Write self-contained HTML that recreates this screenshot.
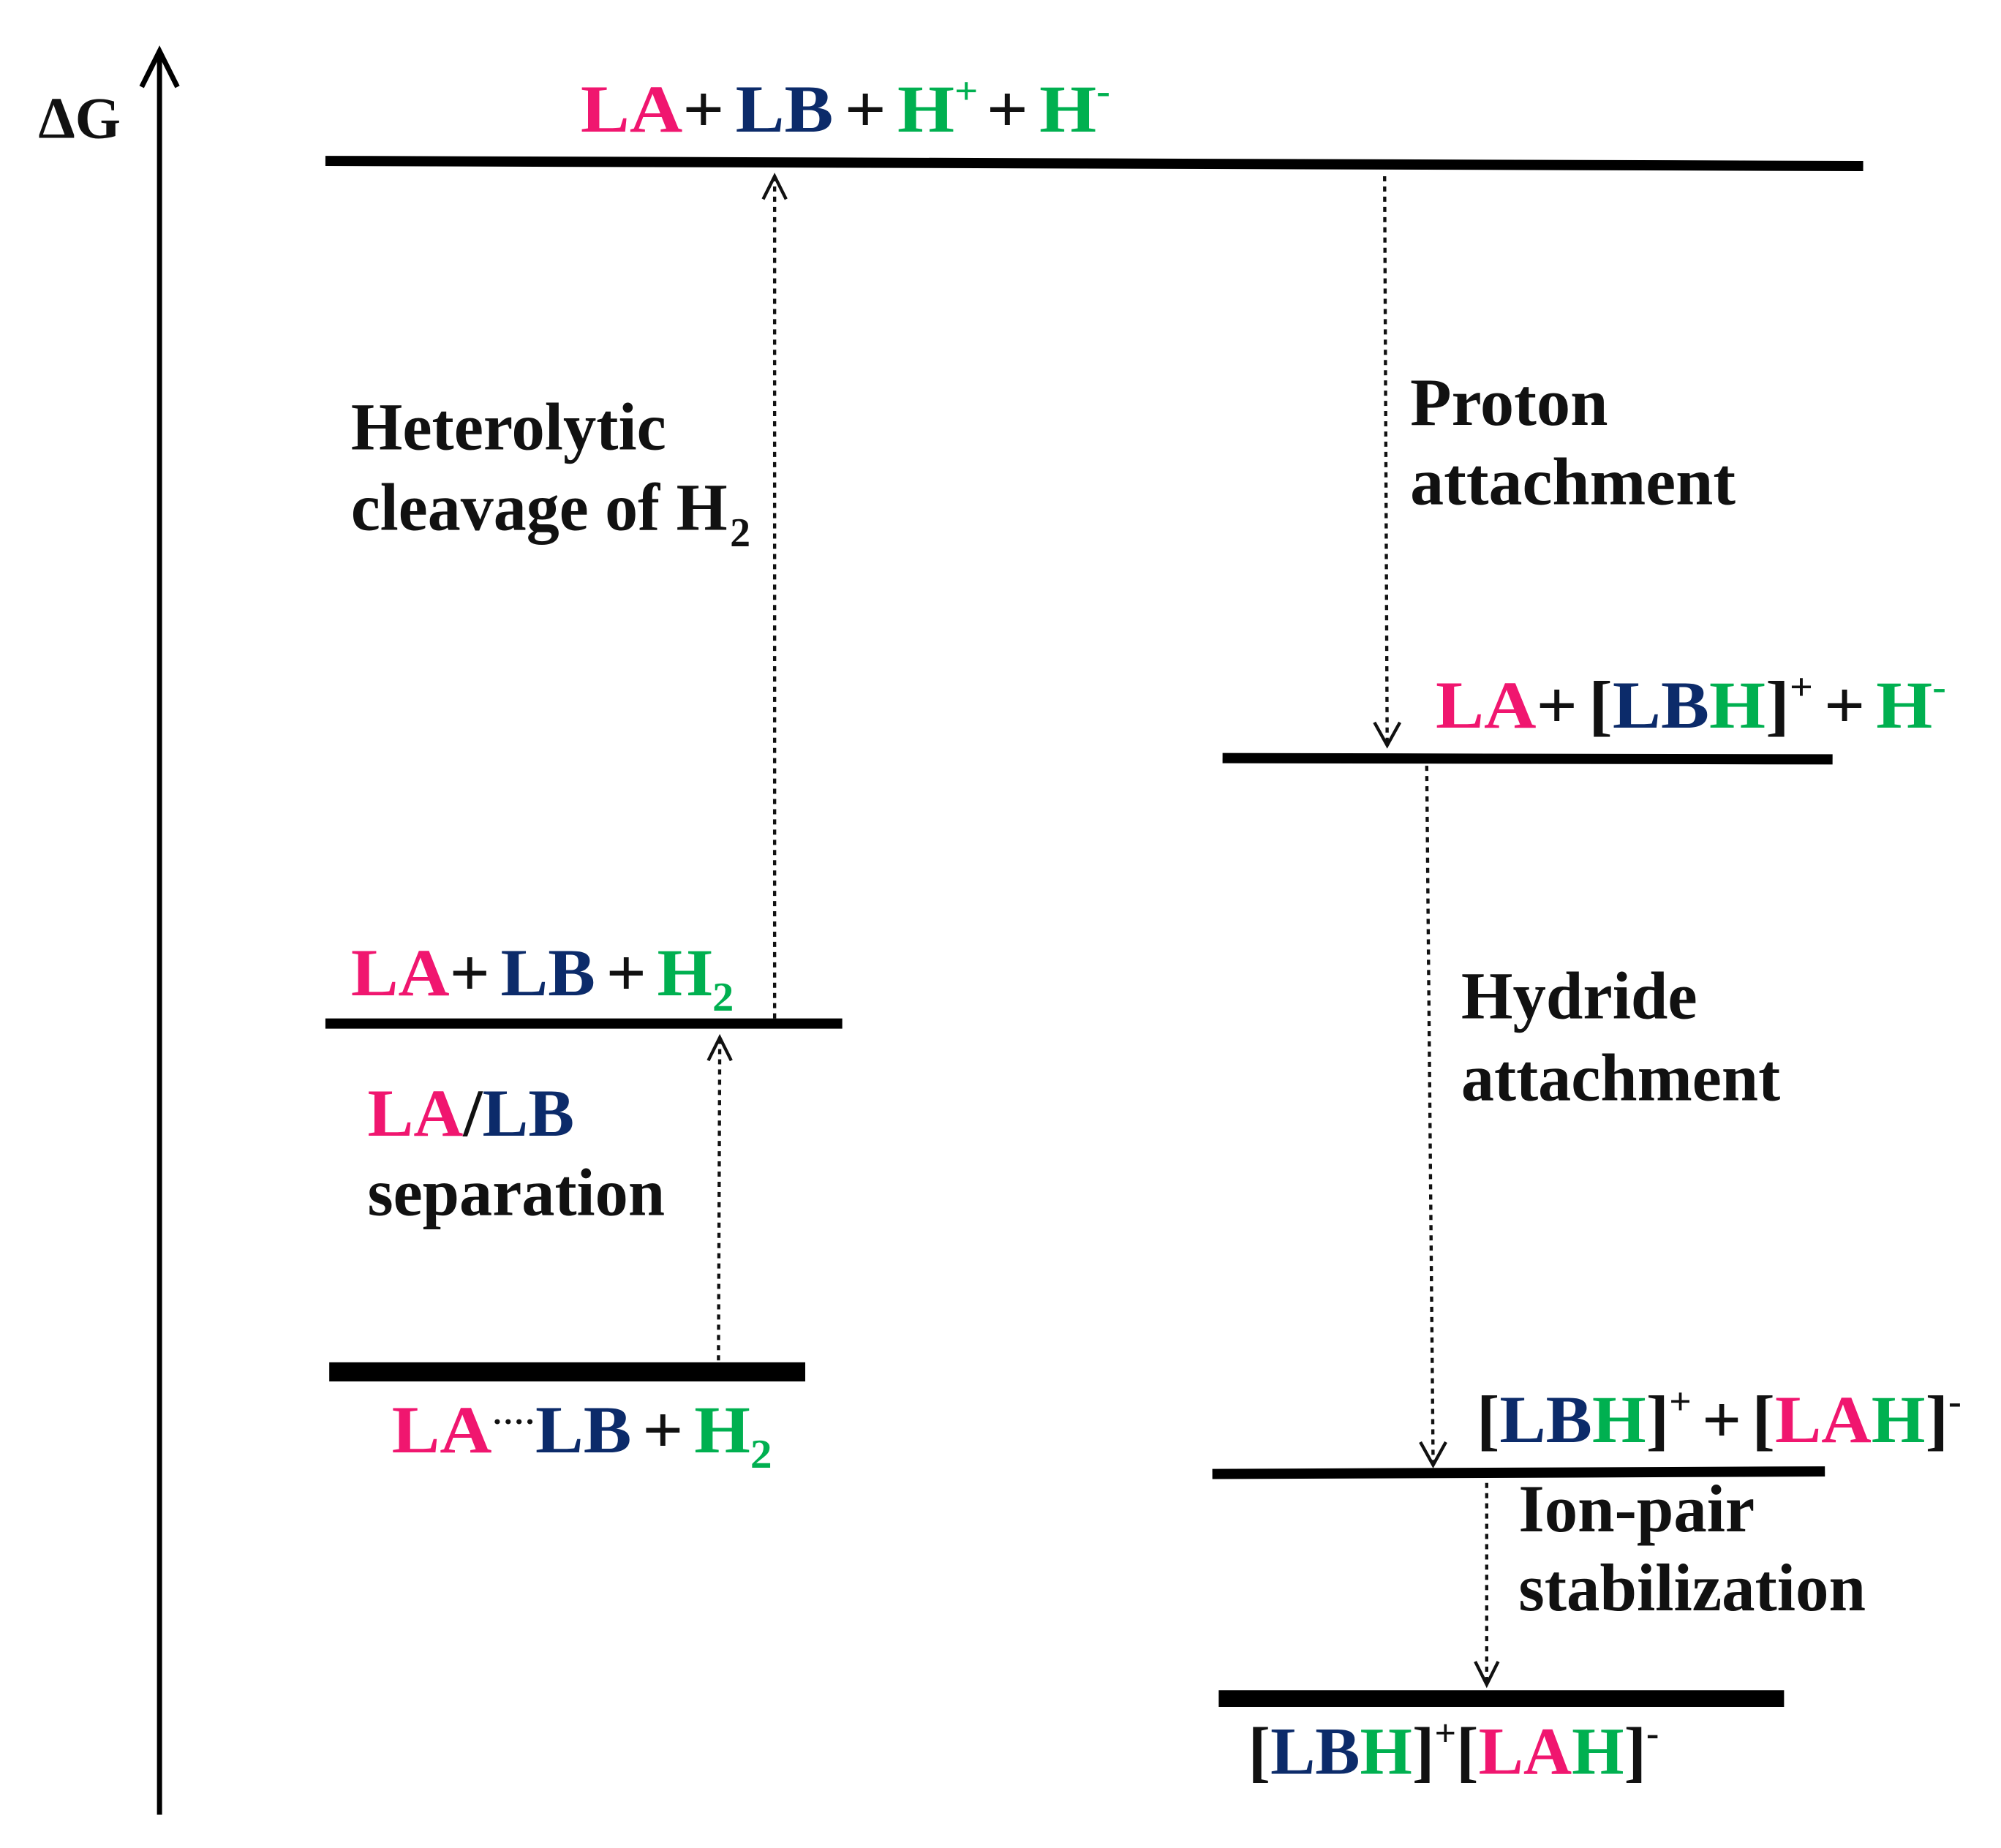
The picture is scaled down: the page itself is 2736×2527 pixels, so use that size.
<!DOCTYPE html>
<html><head><meta charset="utf-8"><style>html,body{margin:0;padding:0;background:#fff}svg{display:block}</style></head>
<body>
<svg width="2736" height="2527" viewBox="0 0 1568 1448" xmlns="http://www.w3.org/2000/svg" font-family="Liberation Serif, serif" font-weight="bold" font-size="53">
<style>
.p{fill:#f0166f}.b{fill:#0c2b6a}.g{fill:#00b050}.k{fill:#111}
.d{stroke:#111;stroke-width:2.5;stroke-dasharray:4 4;fill:none}
.h{stroke:#111;stroke-width:2.5;fill:none}
</style>
<!-- axis -->
<line x1="125" y1="1422" x2="125" y2="44" stroke="#000" stroke-width="4"/>
<path d="M111 68 L125 40 L139 68" stroke="#000" stroke-width="4" fill="none"/>
<text x="30" y="108" font-size="46" class="k">ΔG</text>
<!-- levels -->
<path d="M255 126 L1460 130" stroke="#000" stroke-width="8"/>
<path d="M958 594 L1436 595" stroke="#000" stroke-width="8"/>
<path d="M255 802 L660 802" stroke="#000" stroke-width="8"/>
<path d="M258 1075 L631 1075" stroke="#000" stroke-width="15"/>
<path d="M950 1155 L1430 1153" stroke="#000" stroke-width="8"/>
<path d="M955 1331 L1398 1331" stroke="#000" stroke-width="13"/>
<!-- arrows -->
<line class="d" x1="607" y1="798" x2="607" y2="140"/>
<path class="h" d="M598 156 L607 138 L616 156"/>
<line class="d" x1="1085" y1="138" x2="1087" y2="582"/>
<path class="h" d="M1077 566 L1087 584 L1097 566"/>
<line class="d" x1="563" y1="1066" x2="564" y2="815"/>
<path class="h" d="M555 831 L564 813 L573 831"/>
<line class="d" x1="1118" y1="600" x2="1123" y2="1146"/>
<path class="h" d="M1113 1130 L1123 1148 L1133 1130"/>
<line class="d" x1="1165" y1="1162" x2="1165" y2="1318"/>
<path class="h" d="M1156 1302 L1165 1320 L1174 1302"/>
<!-- labels -->
<text x="455" y="103" textLength="415" lengthAdjust="spacingAndGlyphs"><tspan class="p">LA</tspan><tspan class="k">+</tspan><tspan class="b" dx="8">LB</tspan><tspan class="k" dx="8">+</tspan><tspan class="g" dx="8">H</tspan><tspan class="g" font-size="30" dy="-22">+</tspan><tspan class="k" dx="6" dy="22">+</tspan><tspan class="g" dx="8">H</tspan><tspan class="g" font-size="30" dy="-22">-</tspan></text>
<text x="275" y="352" class="k" textLength="247" lengthAdjust="spacingAndGlyphs">Heterolytic</text>
<text x="275" y="415" class="k" textLength="295" lengthAdjust="spacingAndGlyphs">cleavage of H</text><text x="572" y="428" class="k" font-size="32">2</text>
<text x="1105" y="333" class="k" textLength="155" lengthAdjust="spacingAndGlyphs">Proton</text>
<text x="1105" y="395" class="k" textLength="255" lengthAdjust="spacingAndGlyphs">attachment</text>
<text x="1125" y="570" textLength="400" lengthAdjust="spacingAndGlyphs"><tspan class="p">LA</tspan><tspan class="k">+</tspan><tspan class="k" dx="8">[</tspan><tspan class="b">LB</tspan><tspan class="g">H</tspan><tspan class="k">]</tspan><tspan class="k" font-size="30" dy="-22">+</tspan><tspan class="k" dx="8" dy="22">+</tspan><tspan class="g" dx="8">H</tspan><tspan class="g" font-size="30" dy="-22">-</tspan></text>
<text x="275" y="780" textLength="300" lengthAdjust="spacingAndGlyphs"><tspan class="p">LA</tspan><tspan class="k">+</tspan><tspan class="b" dx="8">LB</tspan><tspan class="k" dx="8">+</tspan><tspan class="g" dx="8">H</tspan><tspan class="g" font-size="32" dy="12">2</tspan></text>
<text x="288" y="890" textLength="162" lengthAdjust="spacingAndGlyphs"><tspan class="p">LA</tspan><tspan class="k">/</tspan><tspan class="b">LB</tspan></text>
<text x="288" y="952" class="k" textLength="233" lengthAdjust="spacingAndGlyphs">separation</text>
<text x="1145" y="798" class="k" textLength="185" lengthAdjust="spacingAndGlyphs">Hydride</text>
<text x="1145" y="862" class="k" textLength="250" lengthAdjust="spacingAndGlyphs">attachment</text>
<text x="307" y="1138" textLength="298" lengthAdjust="spacingAndGlyphs"><tspan class="p">LA</tspan><tspan class="k" font-size="24" dy="-16">····</tspan><tspan class="b" dy="16">LB</tspan><tspan class="k" dx="8">+</tspan><tspan class="g" dx="8">H</tspan><tspan class="g" font-size="32" dy="12">2</tspan></text>
<text x="1157" y="1130" textLength="380" lengthAdjust="spacingAndGlyphs"><tspan class="k">[</tspan><tspan class="b">LB</tspan><tspan class="g">H</tspan><tspan class="k">]</tspan><tspan class="k" font-size="30" dy="-22">+</tspan><tspan class="k" dx="8" dy="22">+</tspan><tspan class="k" dx="8">[</tspan><tspan class="p">LA</tspan><tspan class="g">H</tspan><tspan class="k">]</tspan><tspan class="k" font-size="30" dy="-22">-</tspan></text>
<text x="1190" y="1200" class="k" textLength="185" lengthAdjust="spacingAndGlyphs">Ion-pair</text>
<text x="1190" y="1262" class="k" textLength="272" lengthAdjust="spacingAndGlyphs">stabilization</text>
<text x="978" y="1390" textLength="322" lengthAdjust="spacingAndGlyphs"><tspan class="k">[</tspan><tspan class="b">LB</tspan><tspan class="g">H</tspan><tspan class="k">]</tspan><tspan class="k" font-size="30" dy="-22">+</tspan><tspan class="k" dy="22">[</tspan><tspan class="p">LA</tspan><tspan class="g">H</tspan><tspan class="k">]</tspan><tspan class="k" font-size="30" dy="-22">-</tspan></text>
</svg>
</body></html>
